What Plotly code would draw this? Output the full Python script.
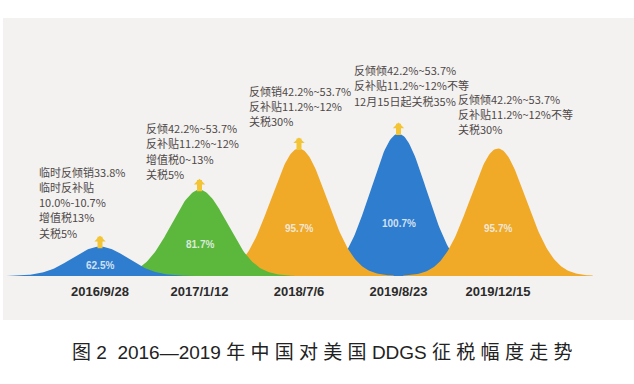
import numpy as np
import plotly.graph_objects as go

# ---------------- data ----------------
dates = ["2016/9/28", "2017/1/12", "2018/7/6", "2019/8/23", "2019/12/15"]
values = [62.5, 81.7, 95.7, 100.7, 95.7]
value_labels = ["62.5%", "81.7%", "95.7%", "100.7%", "95.7%"]
notes = [
    ["临时反倾销33.8%", "临时反补贴", "10.0%-10.7%", "增值税13%", "关税5%"],
    ["反倾42.2%~53.7%", "反补贴11.2%~12%", "增值税0~13%", "关税5%"],
    ["反倾销42.2%~53.7%", "反补贴11.2%~12%", "关税30%"],
    ["反倾倾42.2%~53.7%", "反补贴11.2%~12%不等", "12月15日起关税35%"],
    ["反倾倾42.2%~53.7%", "反补贴11.2%~12%不等", "关税30%"],
]
has_arrow = [True, True, True, True, False]
caption = "图 2  2016—2019 年 中 国 对 美 国 DDGS 征 税 幅 度 走 势"

# ---------------- style ----------------
colors = ["#2e7dcf", "#5cb83c", "#f0aa28", "#2e7dcf", "#f0aa28"]
note_xshift = [-62, -55, -51, -46, -41]
note_yshift = [5, 7, 18, 24, 10]
LINE_H = 15.3
SIG = 0.28          # bell width in category units
Y_BASE = 52.6       # value at the baseline of the y scale
PX_PER_UNIT = 2.96  # vertical scale
BASE_PX = 276
W, H = 634, 384

fig = go.Figure()

# draw tallest first so smaller bells sit on top
order = sorted(range(len(values)), key=lambda k: -values[k])
for i in order:
    xs = np.linspace(i - 3.4 * SIG, i + 3.4 * SIG, 160)
    ys = Y_BASE + (values[i] - Y_BASE) * np.exp(-0.5 * ((xs - i) / SIG) ** 2)
    xs = np.concatenate([[xs[0]], xs, [xs[-1]]])
    ys = np.concatenate([[Y_BASE - 2], ys, [Y_BASE - 2]])
    fig.add_trace(go.Scatter(
        x=xs, y=ys, mode="lines", fill="toself", fillcolor=colors[i],
        line=dict(width=0, color=colors[i]), hoverinfo="skip", showlegend=False))

annotations = []
for i, v in enumerate(values):
    # value label inside the bell
    annotations.append(dict(
        x=i, y=Y_BASE + 0.37 * (v - Y_BASE), text="<b>%s</b>" % value_labels[i],
        showarrow=False, font=dict(family="Liberation Sans", size=10,
                                   color="rgba(240,244,248,0.85)")))
    # arrow above peak
    if has_arrow[i]:
        annotations.append(dict(
            x=i, y=v, text="", showarrow=True, ax=0, ay=14, yshift=11,
            arrowhead=1, arrowsize=0.38, arrowwidth=5, arrowcolor="#f2c436"))
    # note text, one annotation per line
    n = len(notes[i])
    for j, line in enumerate(notes[i]):
        annotations.append(dict(
            x=i, y=v, text=line, showarrow=False, xanchor="left", yanchor="bottom",
            align="left", borderpad=0, xshift=note_xshift[i],
            yshift=note_yshift[i] + (n - 1 - j) * LINE_H,
            font=dict(family="Noto Sans CJK SC", size=11, color="#4f4848")))

annotations.append(dict(
    xref="paper", yref="paper", x=322 / W, y=1 - 352 / H, text=caption,
    showarrow=False, xanchor="center", yanchor="middle",
    font=dict(family="Liberation Sans, Noto Sans CJK SC", size=19, color="#222222")))

x0 = -100 / 99.5
x1 = (W - 100) / 99.5
fig.update_layout(
    width=W, height=H, margin=dict(l=0, r=0, t=0, b=0),
    paper_bgcolor="white", plot_bgcolor="rgba(0,0,0,0)",
    showlegend=False, annotations=annotations,
    shapes=[dict(type="rect", xref="paper", yref="paper", x0=3 / W, x1=1,
                 y0=1 - 320 / H, y1=1 - 18 / H, fillcolor="#f3f2f0",
                 line=dict(width=0), layer="below")],
    xaxis=dict(range=[x0, x1], showgrid=False, zeroline=False, showline=False,
               tickvals=list(range(len(dates))),
               ticktext=["<b>%s</b>" % d for d in dates], ticks="",
               ticklabelstandoff=6,
               tickfont=dict(family="Liberation Sans", size=13, color="#2b2b2b"),
               fixedrange=True),
    yaxis=dict(domain=[1 - BASE_PX / H, 1],
               range=[Y_BASE, Y_BASE + BASE_PX / PX_PER_UNIT],
               visible=False, fixedrange=True),
)

fig.write_html("out.html", config={"displayModeBar": False},
               post_script="document.body.style.margin='0px';")
